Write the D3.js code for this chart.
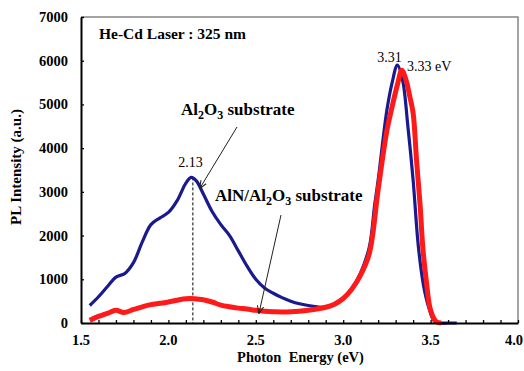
<!DOCTYPE html>
<html>
<head>
<meta charset="utf-8">
<script src="https://cdn.jsdelivr.net/npm/d3@7"></script>
<style>
  html, body { margin: 0; padding: 0; background: #fff; }
  svg { display: block; }
</style>
</head>
<body>
<div id="chart"></div>
<script>
// photon energy (eV) and PL intensity (a.u.)
const blueX = [1.55, 1.60, 1.65, 1.70, 1.75, 1.80, 1.85, 1.90, 1.95, 2.00, 2.05, 2.10, 2.13, 2.16, 2.20, 2.25, 2.30, 2.35, 2.40, 2.45, 2.50, 2.55, 2.60, 2.65, 2.70, 2.75, 2.80, 2.85, 2.90, 2.95, 3.00, 3.05, 3.10, 3.15, 3.18, 3.20, 3.25, 3.28, 3.31, 3.34, 3.37, 3.40, 3.43, 3.46, 3.49, 3.52, 3.55, 3.60, 3.65]
const blueY = [400, 600, 830, 1050, 1130, 1380, 1850, 2250, 2400, 2530, 2800, 3200, 3330, 3250, 2950, 2550, 2250, 2000, 1650, 1300, 1000, 800, 680, 580, 500, 440, 400, 370, 360, 420, 560, 780, 1150, 1750, 2700, 3270, 4870, 5500, 5900, 5550, 4500, 3270, 1750, 850, 350, 50, 0, 0, 0]

const redX = [1.55, 1.60, 1.65, 1.70, 1.745, 1.80, 1.85, 1.90, 1.95, 2.00, 2.05, 2.10, 2.15, 2.20, 2.25, 2.30, 2.35, 2.40, 2.45, 2.50, 2.55, 2.60, 2.70, 2.80, 2.90, 2.95, 3.00, 3.05, 3.10, 3.15, 3.20, 3.25, 3.28, 3.31, 3.335, 3.36, 3.38, 3.40, 3.42, 3.44, 3.455, 3.475, 3.50, 3.53, 3.56]
const redY = [60, 150, 220, 290, 240, 310, 370, 420, 450, 480, 520, 555, 555, 530, 480, 410, 370, 340, 320, 290, 270, 260, 255, 290, 360, 430, 560, 780, 1100, 1600, 3050, 4400, 4950, 5450, 5780, 5550, 5200, 4800, 3700, 2700, 1750, 980, 290, 40, 0]

const xTicks = [1.5, 2.0, 2.5, 3.0, 3.5, 4.0]
const yTicks = [0, 1000, 2000, 3000, 4000, 5000, 6000, 7000]

const width = 524, height = 371
const m = {top: 17, right: 6, bottom: 48, left: 81}
const iw = width - m.left - m.right
const ih = height - m.top - m.bottom
const serif = "'Liberation Serif', 'Times New Roman', Times, serif"

const svg = d3.select("#chart").append("svg")
  .attr("width", width).attr("height", height)
  .attr("font-family", serif)
svg.append("rect").attr("width", width).attr("height", height).attr("fill", "#fff")

const x = d3.scaleLinear().domain([1.5, 4.0]).range([0, iw])
const y = d3.scaleLinear().domain([0, 7000]).range([ih, 0])

const g = svg.append("g").attr("transform", `translate(${m.left},${m.top})`)

// gray frame on top and right
g.append("path")
  .attr("d", `M0,0H${iw}V${ih}`)
  .attr("fill", "none")
  .attr("stroke", "#858585")
  .attr("stroke-width", 1.5)

const line = d3.line().x((d) => x(d[0])).y((d) => y(d[1])).curve(d3.curveCatmullRom.alpha(0.5))

const blue = blueX.map((v, i) => [v, blueY[i]])
const red = redX.map((v, i) => [v, redY[i]])

// dashed line at 2.13 eV
g.append("line")
  .attr("x1", x(2.14)).attr("x2", x(2.14))
  .attr("y1", y(3330)).attr("y2", ih)
  .attr("stroke", "#000").attr("stroke-width", 1)
  .attr("stroke-dasharray", "3,2")

g.append("path")
  .attr("d", line(blue))
  .attr("fill", "none")
  .attr("stroke", "#1a1a8f")
  .attr("stroke-width", 3.2)

g.append("path")
  .attr("d", line(red))
  .attr("fill", "none")
  .attr("stroke", "#ff1a1a")
  .attr("stroke-width", 5)

// axes
const xAxis = g.append("g")
  .attr("transform", `translate(0,${ih})`)
  .call(d3.axisBottom(x).tickValues(d3.range(15, 41).map((d) => d / 10)).tickSizeInner(-3).tickSizeOuter(0).tickFormat(""))
xAxis.select(".domain").attr("stroke-width", 2)
xAxis.selectAll(".tick line").attr("stroke-width", 1.3)

g.selectAll(".xlab")
  .data(xTicks)
  .join("text")
  .attr("x", (d) => Math.min(x(d), iw - 4))
  .attr("y", ih + 22)
  .attr("text-anchor", "middle")
  .attr("font-size", 14.5)
  .attr("font-weight", "bold")
  .text((d) => d.toFixed(1))

const yAxis = g.append("g")
  .call(d3.axisLeft(y).tickValues(yTicks).tickSizeInner(-3).tickSizeOuter(0).tickFormat(""))
yAxis.select(".domain").attr("stroke-width", 2)
yAxis.selectAll(".tick line").attr("stroke-width", 1.3)

g.selectAll(".ylab")
  .data(yTicks)
  .join("text")
  .attr("x", -13)
  .attr("y", (d) => y(d) + 5)
  .attr("text-anchor", "end")
  .attr("font-size", 14.5)
  .attr("font-weight", "bold")
  .text((d) => d)

// axis titles
svg.append("text")
  .attr("x", m.left + iw / 2 + 1)
  .attr("y", 362)
  .attr("text-anchor", "middle")
  .attr("font-size", 14.5)
  .attr("font-weight", "bold")
  .attr("xml:space", "preserve")
  .text("Photon  Energy (eV)")

svg.append("text")
  .attr("transform", "translate(21,167) rotate(-90)")
  .attr("text-anchor", "middle")
  .attr("font-size", 15)
  .attr("font-weight", "bold")
  .text("PL Intensity (a.u.)")

// annotations
svg.append("text")
  .attr("x", 99).attr("y", 39)
  .attr("font-size", 15.5).attr("font-weight", "bold")
  .attr("xml:space", "preserve")
  .text("He-Cd Laser : 325 nm")

// parts: [text, isSubscript]
const sub = (sel, parts) => {
  let prev = false
  parts.forEach(([t, s]) => {
    sel.append("tspan")
      .attr("font-size", s ? 12 : 17)
      .attr("dy", s && !prev ? 3.5 : !s && prev ? -3.5 : 0)
      .text(t)
    prev = s
  })
}

const t1 = svg.append("text").attr("x", 181).attr("y", 115).attr("font-weight", "bold").attr("xml:space", "preserve")
sub(t1, [["Al", false], ["2", true], ["O", false], ["3", true], [" substrate", false]])

const t2 = svg.append("text").attr("x", 215).attr("y", 201).attr("font-weight", "bold").attr("xml:space", "preserve")
sub(t2, [["AlN/Al", false], ["2", true], ["O", false], ["3", true], [" substrate", false]])

svg.append("text").attr("x", 190.5).attr("y", 166.5).attr("text-anchor", "middle").attr("font-size", 14).text("2.13")
svg.append("text").attr("x", 389.5).attr("y", 62).attr("text-anchor", "middle").attr("font-size", 14).text("3.31")
svg.append("text").attr("x", 407).attr("y", 71).attr("font-size", 14).text("3.33 eV")

// arrows
const defs = svg.append("defs")
defs.append("marker")
  .attr("id", "ah")
  .attr("viewBox", "0 0 10 10")
  .attr("refX", 9).attr("refY", 5)
  .attr("markerWidth", 8).attr("markerHeight", 8)
  .attr("orient", "auto")
  .append("path")
  .attr("d", "M0,1L10,5L0,9")
  .attr("fill", "none")
  .attr("stroke", "#222")
  .attr("stroke-width", 1.3)

svg.append("line")
  .attr("x1", 237).attr("y1", 127).attr("x2", 200).attr("y2", 188)
  .attr("stroke", "#222").attr("stroke-width", 1)
  .attr("marker-end", "url(#ah)")

svg.append("line")
  .attr("x1", 281).attr("y1", 215).attr("x2", 259).attr("y2", 313)
  .attr("stroke", "#222").attr("stroke-width", 1)
  .attr("marker-end", "url(#ah)")
</script>
</body>
</html>
